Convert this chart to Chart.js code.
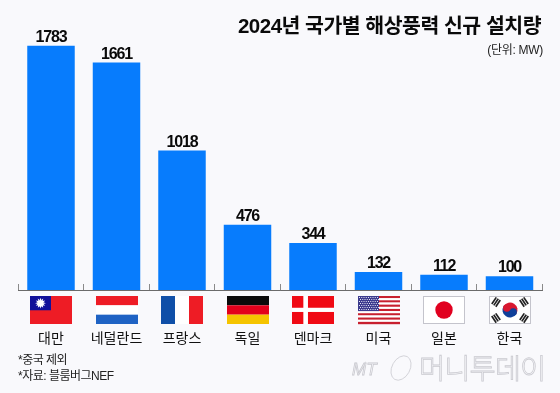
<!DOCTYPE html>
<html lang="ko">
<head>
<meta charset="utf-8">
<style>
  html, body { margin: 0; padding: 0; background: #f9f9fc; }
  #wrap { width: 560px; height: 393px; position: relative; }
</style>
</head>
<body>
<div id="wrap"><canvas id="chart" width="560" height="393"></canvas></div>
<script src="https://cdn.jsdelivr.net/npm/chart.js@4"></script>
<script>
const categories = ['대만', '네덜란드', '프랑스', '독일', '덴마크', '미국', '일본', '한국']
const capacity = [1783, 1661, 1018, 476, 344, 132, 112, 100]
const flagCodes = ['tw', 'nl', 'fr', 'de', 'dk', 'us', 'jp', 'kr']
const titleText = '2024년 국가별 해상풍력 신규 설치량'
const unitText = '(단위: MW)'
const notes = ['*중국 제외', '*자료: 블룸버그NEF']

const KR = '"Noto Sans CJK KR", "Noto Sans", sans-serif'
const MIXED = `"Liberation Sans", ${KR}`
const FLAG_W = 42
const FLAG_H = 28

function stripesH(ctx, x, y, w, h, colors) {
  colors.forEach((c, i) => {
    ctx.fillStyle = c
    ctx.fillRect(x, y + h * i / colors.length, w, h / colors.length)
  })
}

function stripesV(ctx, x, y, w, h, colors) {
  colors.forEach((c, i) => {
    ctx.fillStyle = c
    ctx.fillRect(x + w * i / colors.length, y, w / colors.length, h)
  })
}

function drawFlag(ctx, code, x, y, w, h) {
  if (code === 'nl') stripesH(ctx, x, y, w, h, ['#ee1c25', '#ffffff', '#1f63c4'])
  if (code === 'fr') stripesV(ctx, x, y, w, h, ['#0f4fa8', '#ffffff', '#ee1c25'])
  if (code === 'de') stripesH(ctx, x, y, w, h, ['#0a0a0a', '#e3001b', '#f5c400'])
  if (code === 'tw') {
    ctx.fillStyle = '#ee1c25'
    ctx.fillRect(x, y, w, h)
    ctx.fillStyle = '#10109a'
    ctx.fillRect(x, y, w / 2, h * 0.51)
    const cx = x + w / 4
    const cy = y + h * 0.255
    ctx.fillStyle = '#fff'
    for (let i = 0; i < 12; i++) {
      const a = i * Math.PI / 6
      ctx.beginPath()
      ctx.moveTo(cx + 5.4 * Math.cos(a), cy + 5.4 * Math.sin(a))
      ctx.lineTo(cx + 3 * Math.cos(a + 0.3), cy + 3 * Math.sin(a + 0.3))
      ctx.lineTo(cx + 3 * Math.cos(a - 0.3), cy + 3 * Math.sin(a - 0.3))
      ctx.fill()
    }
    ctx.beginPath()
    ctx.arc(cx, cy, 3.2, 0, Math.PI * 2)
    ctx.fill()
  }
  if (code === 'dk') {
    ctx.fillStyle = '#f00a14'
    ctx.fillRect(x, y, w, h)
    ctx.fillStyle = '#fff'
    ctx.fillRect(x + w * 0.27, y, w * 0.11, h)
    ctx.fillRect(x, y + h * 0.42, w, h * 0.15)
  }
  if (code === 'us') {
    for (let i = 0; i < 13; i++) {
      ctx.fillStyle = i % 2 ? '#ffffff' : '#c8202f'
      ctx.fillRect(x, y + h * i / 13, w, h / 13 + 0.2)
    }
    ctx.fillStyle = '#3c3b8e'
    ctx.fillRect(x, y, w * 0.5, h * 7 / 13)
    ctx.fillStyle = '#e6e6f5'
    for (let r = 0; r < 7; r++) {
      for (let c = 0; c < 9; c++) {
        ctx.fillRect(x + 1 + c * 2.25 + (r % 2), y + 1 + r * 2, 1, 1)
      }
    }
  }
  if (code === 'jp' || code === 'kr') {
    ctx.fillStyle = '#ffffff'
    ctx.fillRect(x, y, w, h)
    ctx.strokeStyle = '#c4c4cc'
    ctx.lineWidth = 1
    ctx.strokeRect(x + 0.5, y + 0.5, w - 1, h - 1)
  }
  if (code === 'jp') {
    ctx.fillStyle = '#e1001f'
    ctx.beginPath()
    ctx.arc(x + w / 2, y + h / 2, 8.7, 0, Math.PI * 2)
    ctx.fill()
  }
  if (code === 'kr') {
    const cx = x + w / 2
    const cy = y + h / 2
    const r = 7.5
    const tilt = Math.PI * 0.18
    ctx.fillStyle = '#d81830'
    ctx.beginPath()
    ctx.arc(cx, cy, r, tilt + Math.PI, tilt + Math.PI * 2)
    ctx.fill()
    ctx.fillStyle = '#10409a'
    ctx.beginPath()
    ctx.arc(cx, cy, r, tilt, tilt + Math.PI)
    ctx.fill()
    const dx = Math.cos(tilt) * r / 2
    const dy = Math.sin(tilt) * r / 2
    ctx.beginPath()
    ctx.arc(cx + dx, cy + dy, r / 2, 0, Math.PI * 2)
    ctx.fill()
    ctx.fillStyle = '#d81830'
    ctx.beginPath()
    ctx.arc(cx - dx, cy - dy, r / 2, 0, Math.PI * 2)
    ctx.fill()
    // four bar groups in the corners
    ctx.fillStyle = '#222'
    ;[[-14, -8, -0.98], [14, -8, 0.98], [-14, 8, 0.98], [14, 8, -0.98]].forEach(([ox, oy, a]) => {
      ctx.save()
      ctx.translate(cx + ox, cy + oy)
      ctx.rotate(a)
      for (let i = -1; i <= 1; i++) ctx.fillRect(-4, i * 2.4 - 0.8, 8, 1.7)
      ctx.restore()
    })
  }
}

const chartDecor = {
  id: 'chartDecor',
  afterDraw(chart) {
    const { ctx } = chart
    const xScale = chart.scales.x
    ctx.save()

    // flags under the axis
    flagCodes.forEach((code, i) => {
      const cx = xScale.getPixelForValue(i)
      drawFlag(ctx, code, Math.round(cx - FLAG_W / 2), 296, FLAG_W, FLAG_H)
    })

    // values above the bars
    ctx.fillStyle = '#0a0a0a'
    ctx.font = `700 16px ${MIXED}`
    ctx.letterSpacing = '-1.2px'
    ctx.textAlign = 'center'
    ctx.textBaseline = 'alphabetic'
    chart.getDatasetMeta(0).data.forEach((bar, i) => {
      ctx.fillText(capacity[i], bar.x, bar.y - 4)
    })

    // title and unit
    ctx.textAlign = 'right'
    ctx.font = `700 20.5px ${MIXED}`
    ctx.letterSpacing = '-0.5px'
    ctx.fillText(titleText, 541, 33)
    ctx.font = `400 12px ${MIXED}`
    ctx.letterSpacing = '-0.3px'
    ctx.fillStyle = '#222'
    ctx.fillText(unitText, 543, 54)

    // footnotes
    ctx.textAlign = 'left'
    ctx.font = `400 12px ${MIXED}`
    ctx.letterSpacing = '-0.5px'
    ctx.fillText(notes[0], 18, 364)
    ctx.fillText(notes[1], 18, 380)

    // watermark
    ctx.strokeStyle = '#c9c9cf'
    ctx.lineWidth = 0.8
    ctx.letterSpacing = '0px'
    ctx.font = 'italic 400 17px "Liberation Sans"'
    ctx.strokeText('MT', 352, 375)
    ctx.beginPath()
    ctx.ellipse(401, 368, 9, 13, 0.5, 0, Math.PI * 2)
    ctx.stroke()
    ctx.font = `300 28.5px ${KR}`
    ctx.letterSpacing = '-1px'
    ctx.strokeText('머니투데이', 419, 379)
    ctx.restore()
  },
}

new Chart(document.getElementById('chart'), {
  type: 'bar',
  data: {
    labels: categories,
    datasets: [{
      data: capacity,
      backgroundColor: '#077cfd',
      categoryPercentage: 1,
      barPercentage: 0.725,
    }],
  },
  options: {
    responsive: false,
    animation: false,
    layout: { padding: { left: 18.25, right: 17.75, top: 10, bottom: 0 } },
    plugins: { legend: { display: false }, tooltip: { enabled: false } },
    scales: {
      x: {
        offset: true,
        afterFit(scale) {
          scale.height = 103
          scale.paddingLeft = 0
          scale.paddingRight = 0
        },
        border: { color: '#6b6b6b', width: 1 },
        grid: { offset: true, drawOnChartArea: false, tickLength: -6, color: '#8a8a8a' },
        ticks: {
          padding: 45,
          color: '#111',
          maxRotation: 0,
          autoSkip: false,
          font: { family: KR, size: 14, weight: '400' },
        },
      },
      y: {
        display: false,
        min: 0,
        max: 2045,
      },
    },
  },
  plugins: [chartDecor],
})
</script>
</body>
</html>
